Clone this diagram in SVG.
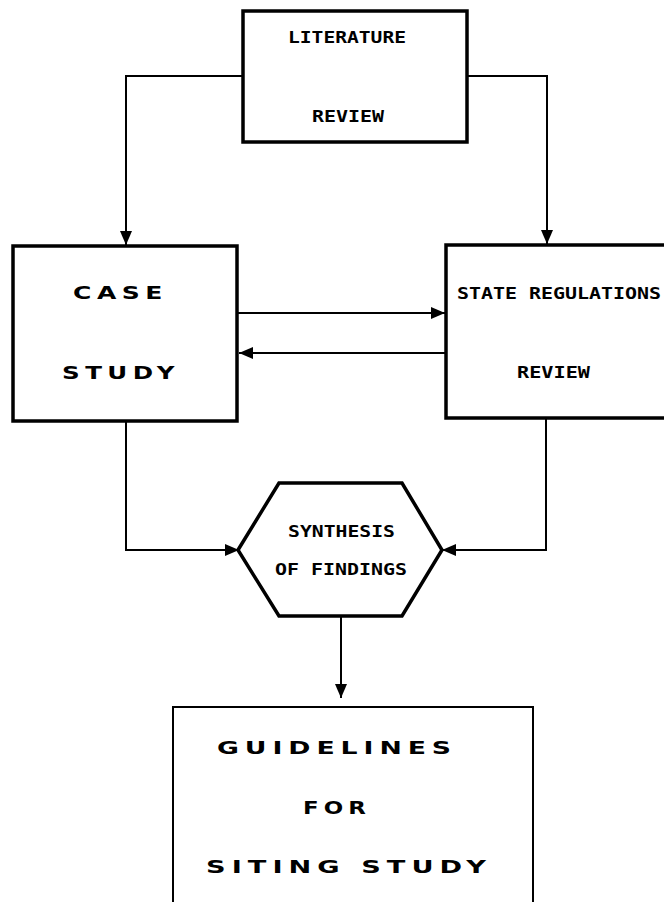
<svg xmlns="http://www.w3.org/2000/svg" width="664" height="902" viewBox="0 0 664 902">
<style>
.box{fill:#fff;stroke:#000;stroke-width:3.5}
.thin{fill:#fff;stroke:#000;stroke-width:2}
.c{fill:none;stroke:#000;stroke-width:2}
.t1{font-family:"DejaVu Sans Mono",monospace;font-weight:bold;font-size:15px;fill:#000}
.t2{font-family:"DejaVu Sans","Liberation Sans",sans-serif;font-weight:bold;font-size:18px;letter-spacing:4px;fill:#000}
</style>
<defs>
<marker id="ah" markerUnits="userSpaceOnUse" markerWidth="14" markerHeight="14" viewBox="0 0 14 12" refX="14" refY="6" orient="auto">
<path d="M0,0 L14,6 L0,12 Z" fill="#000"/>
</marker>
</defs>
<rect width="664" height="902" fill="#fff"/>
<g id="connectors">
<polyline class="c" points="243,76 126,76 126,245" marker-end="url(#ah)"/>
<polyline class="c" points="467,76 547,76 547,244" marker-end="url(#ah)"/>
<line class="c" x1="238" y1="313" x2="445" y2="313" marker-end="url(#ah)"/>
<line class="c" x1="446" y1="353" x2="239" y2="353" marker-end="url(#ah)"/>
<polyline class="c" points="126,421 126,550 239,550" marker-end="url(#ah)"/>
<polyline class="c" points="546,418 546,550 442,550" marker-end="url(#ah)"/>
<line class="c" x1="341" y1="616" x2="341" y2="698" marker-end="url(#ah)"/>
</g>
<g id="literature">
<rect class="box" x="243" y="11" width="224" height="131"/>
<text class="t1" x="288" y="43" textLength="118" lengthAdjust="spacingAndGlyphs">LITERATURE</text>
<text class="t1" x="312" y="122" textLength="72" lengthAdjust="spacingAndGlyphs">REVIEW</text>
</g>
<g id="case">
<rect class="box" x="13" y="246" width="224" height="175"/>
<text class="t2" x="73" y="299" textLength="95" lengthAdjust="spacingAndGlyphs">CASE</text>
<text class="t2" x="62" y="379" textLength="118" lengthAdjust="spacingAndGlyphs">STUDY</text>
</g>
<g id="state">
<rect class="box" x="446" y="245" width="240" height="173"/>
<text class="t1" x="457" y="299" textLength="204" lengthAdjust="spacingAndGlyphs">STATE REGULATIONS</text>
<text class="t1" x="517" y="378" textLength="73" lengthAdjust="spacingAndGlyphs">REVIEW</text>
</g>
<g id="synthesis">
<polygon class="box" points="238,550 279,483 402,483 442,550 402,616 279,616"/>
<text class="t1" x="288" y="537" textLength="107" lengthAdjust="spacingAndGlyphs">SYNTHESIS</text>
<text class="t1" x="275" y="575" textLength="132" lengthAdjust="spacingAndGlyphs">OF FINDINGS</text>
</g>
<g id="guidelines">
<rect class="thin" x="173" y="707" width="360" height="210"/>
<text class="t2" x="217" y="754" textLength="240" lengthAdjust="spacingAndGlyphs">GUIDELINES</text>
<text class="t2" x="303" y="814" textLength="68" lengthAdjust="spacingAndGlyphs">FOR</text>
<text class="t2" x="206" y="873" textLength="286" lengthAdjust="spacingAndGlyphs">SITING STUDY</text>
</g>
</svg>
